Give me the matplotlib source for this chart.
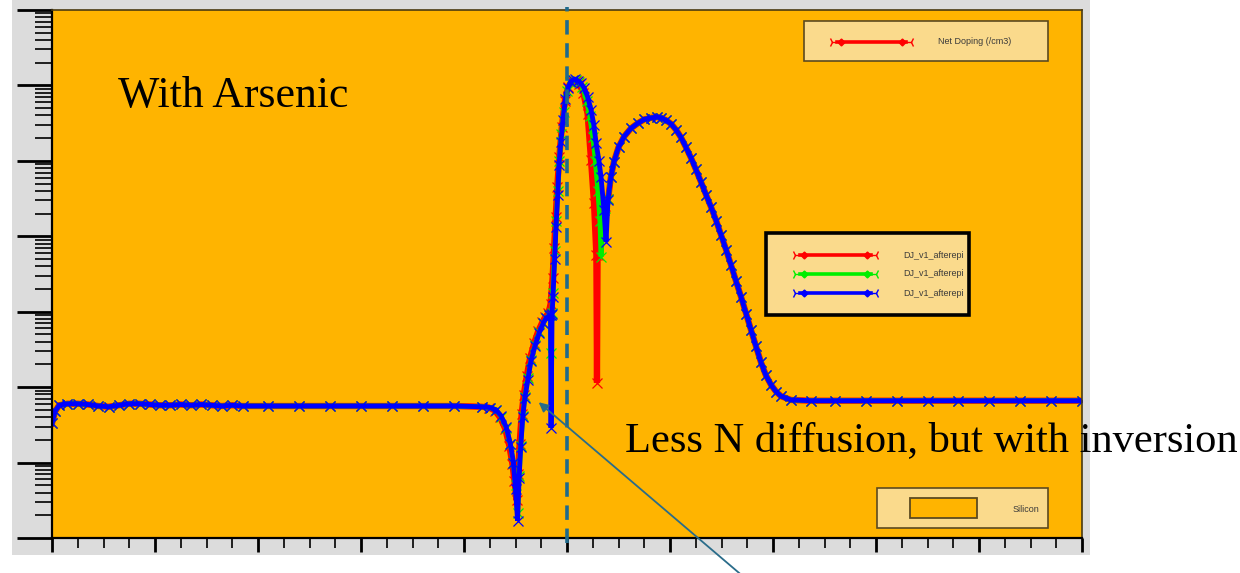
import numpy as np
import matplotlib
matplotlib.use("Agg")
import matplotlib.pyplot as plt
from matplotlib.patches import Rectangle
from matplotlib.lines import Line2D

# depth in um (junction at 0), log10 of net doping (/cm3)
plateau_depth = [-5.00, -4.97, -4.93, -4.85, -4.75, -4.65, -4.55, -4.45, -4.35, -4.25,
                 -4.15, -4.05, -3.95, -3.85, -3.75, -3.65, -3.55, -3.45, -3.35, -3.25,
                 -3.15, -2.9, -2.6, -2.3, -2.0, -1.7, -1.4, -1.1, -0.83]
plateau_logn = [15.52, 15.68, 15.76, 15.78, 15.78, 15.77, 15.75, 15.74, 15.76, 15.78,
                15.78, 15.77, 15.76, 15.76, 15.77, 15.76, 15.77, 15.76, 15.75, 15.76,
                15.75, 15.75, 15.75, 15.75, 15.75, 15.75, 15.75, 15.75, 15.74]

tail_depth = [0.425, 0.456, 0.50, 0.553, 0.62, 0.689, 0.75, 0.816, 0.87, 0.913,
              0.96, 1.010, 1.06, 1.107, 1.155, 1.204, 1.25, 1.301, 1.35, 1.398,
              1.45, 1.495, 1.545, 1.592, 1.64, 1.689, 1.74, 1.786, 1.835, 1.883,
              1.93, 1.981, 2.03, 2.078, 2.175, 2.37,
              2.6, 2.9, 3.2, 3.5, 3.8, 4.1, 4.4, 4.7, 5.0]
tail_logn = [18.78, 18.99, 19.18, 19.32, 19.43, 19.50, 19.55, 19.57, 19.58, 19.57,
             19.54, 19.49, 19.41, 19.31, 19.18, 19.04, 18.89, 18.72, 18.55, 18.39,
             18.20, 18.02, 17.82, 17.62, 17.41, 17.20, 16.97, 16.76, 16.54, 16.33,
             16.16, 16.03, 15.94, 15.88, 15.83, 15.82,
             15.82, 15.82, 15.82, 15.82, 15.82, 15.82, 15.82, 15.82, 15.82]

red_mid_depth = [-0.76, -0.70, -0.65, -0.60, -0.56, -0.53, -0.51, -0.49, -0.475, -0.46,
                 -0.44, -0.42, -0.39, -0.36, -0.32, -0.28, -0.24, -0.21, -0.18, -0.16,
                 -0.14, -0.125, -0.11, -0.095, -0.075, -0.05, -0.02, 0.01, 0.05, 0.09,
                 0.12, 0.16, 0.20, 0.233, 0.262, 0.285, 0.291, 0.297, 0.33, 0.37, 0.40]
red_mid_logn = [15.73, 15.69, 15.60, 15.45, 15.22, 14.98, 14.75, 14.50, 14.85, 15.25,
                15.65, 15.90, 16.15, 16.38, 16.58, 16.74, 16.86, 16.93, 16.98, 17.10,
                17.45, 17.85, 18.25, 18.65, 19.05, 19.45, 19.80, 19.98, 20.06, 20.06,
                20.02, 19.90, 19.62, 19.01, 18.44, 17.75, 16.06, 17.75, 18.10, 18.40, 18.50]

green_mid_depth = [-0.75, -0.69, -0.64, -0.59, -0.55, -0.52, -0.50, -0.48, -0.465, -0.45,
                   -0.43, -0.41, -0.38, -0.35, -0.31, -0.27, -0.23, -0.20, -0.17, -0.16,
                   -0.155, -0.148, -0.138, -0.12, -0.105, -0.09, -0.075, -0.055, -0.03, 0.0,
                   0.03, 0.06, 0.09, 0.12, 0.15, 0.19, 0.22, 0.25, 0.275, 0.30,
                   0.32, 0.330, 0.345, 0.37, 0.40]
green_mid_logn = [15.73, 15.70, 15.61, 15.46, 15.24, 14.99, 14.70, 14.33, 14.82, 15.22,
                  15.62, 15.87, 16.12, 16.36, 16.56, 16.73, 16.85, 16.92, 16.96, 16.96,
                  16.45, 16.98, 17.25, 17.80, 18.20, 18.60, 19.00, 19.35, 19.65, 19.92,
                  20.04, 20.07, 20.07, 20.04, 19.98, 19.80, 19.60, 19.32, 19.00, 18.60,
                  18.20, 17.73, 18.05, 18.38, 18.50]

blue_mid_depth = [-0.75, -0.69, -0.64, -0.59, -0.55, -0.52, -0.50, -0.48, -0.465, -0.45,
                  -0.43, -0.41, -0.38, -0.35, -0.31, -0.27, -0.23, -0.20, -0.17, -0.16,
                  -0.155, -0.145, -0.136, -0.12, -0.107, -0.09, -0.078, -0.06, -0.039, -0.015,
                  0.010, 0.035, 0.058, 0.08, 0.107, 0.135, 0.165, 0.20, 0.233, 0.26,
                  0.282, 0.31, 0.330, 0.359, 0.379, 0.398]
blue_mid_logn = [15.73, 15.70, 15.62, 15.47, 15.25, 15.00, 14.65, 14.23, 14.80, 15.20,
                 15.60, 15.85, 16.10, 16.35, 16.55, 16.72, 16.85, 16.92, 16.95, 16.95,
                 15.46, 16.97, 17.20, 17.70, 18.12, 18.55, 18.95, 19.25, 19.54, 19.82,
                 19.97, 20.05, 20.07, 20.08, 20.06, 20.03, 19.97, 19.85, 19.68, 19.48,
                 19.24, 19.00, 18.79, 18.35, 17.93, 18.48]

series_names = ["DJ_v1_afterepi", "DJ_v1_afterepi", "DJ_v1_afterepi"]
series_colors = ["#FF0000", "#00EE00", "#0000FF"]
series_mid = [(red_mid_depth, red_mid_logn),
              (green_mid_depth, green_mid_logn),
              (blue_mid_depth, blue_mid_logn)]

W, H = 1240, 573
ORANGE = "#FFB400"
LEG_FACE = "#FADA8C"


def fx(px):
    return px / W


def fy(py):
    return 1 - py / H


fig = plt.figure(figsize=(W / 100, H / 100), dpi=100)
fig.patch.set_facecolor("white")
# gray panel behind the plot
fig.add_artist(Rectangle((fx(12), fy(555)), 1078 / W, 555 / H, transform=fig.transFigure,
                         facecolor="#DCDCDC", edgecolor="none", zorder=-5))

ax = fig.add_axes([fx(52), fy(538), (1082 - 52) / W, (538 - 10) / H])
ax.set_facecolor(ORANGE)

for (mid_d, mid_n), col, lw in zip(series_mid, series_colors, [4.5, 3.5, 3.5]):
    d = np.array(plateau_depth + mid_d + tail_depth)
    n = 10 ** np.array(plateau_logn + mid_n + tail_logn)
    ax.plot(d, n, color=col, lw=lw, marker="x", ms=6.5, mew=0.9, solid_joinstyle="miter")

ax.set_yscale("log")
ax.set_xlim(-5, 5)
ax.set_ylim(1e14, 1e21)
ax.set_xticks(np.arange(-5, 5.01, 1))
ax.set_xticks(np.arange(-5, 5.01, 0.25), minor=True)
ax.tick_params(axis="y", which="major", direction="out", length=25, width=2, color="black")
ax.tick_params(axis="y", which="minor", direction="out", length=12, width=1.2, color="black")
ax.tick_params(axis="x", which="major", direction="out", length=10, width=2, color="black")
ax.tick_params(axis="x", which="minor", direction="out", length=7, width=1.2, color="black")
ax.tick_params(labelleft=False, labelbottom=False)
for s in ["left", "bottom"]:
    ax.spines[s].set_linewidth(1.6)
    ax.spines[s].set_color("black")
for s in ["top", "right"]:
    ax.spines[s].set_linewidth(1.2)
    ax.spines[s].set_color("#4a3a10")

# metallurgical junction marker
ax.axvline(0, ymin=-0.01, ymax=1.005, color="#1F6A8C", lw=2.6, ls=(0, (4, 2.4)),
           clip_on=False, zorder=5)


def box(x0, y0, x1, y1, edge="#5C4A20", lw=1.2, face=LEG_FACE):
    r = Rectangle((fx(x0), fy(y1)), (x1 - x0) / W, (y1 - y0) / H, transform=fig.transFigure,
                  facecolor=face, edgecolor=edge, lw=lw, zorder=6)
    fig.add_artist(r)
    return r


def sample(x0, x1, y, color):
    tr = fig.transFigure
    fig.add_artist(Line2D([fx(x0 + 5), fx(x1 - 5)], [fy(y)] * 2, color=color, lw=2.6,
                          transform=tr, zorder=7))
    fig.add_artist(Line2D([fx(x0 + 9), fx(x1 - 9)], [fy(y)] * 2, ls="none", marker="D", ms=3.5,
                          color=color, transform=tr, zorder=7))
    fig.add_artist(Line2D([fx(x0)], [fy(y)], ls="none", marker="4", ms=7, mew=1,
                          color=color, transform=tr, zorder=7))
    fig.add_artist(Line2D([fx(x1)], [fy(y)], ls="none", marker="3", ms=7, mew=1,
                          color=color, transform=tr, zorder=7))


leg_font = dict(family="Liberation Sans", fontsize=6.5, color="#3a3a3a", va="center", zorder=8)

box(804, 21, 1048, 61)
sample(832, 911, 42, "#FF0000")
fig.text(fx(938), fy(42), "Net Doping (/cm3)", **leg_font)

mid_box = box(766, 233, 969, 315, edge="black", lw=2.6)
for name, col, yy in zip(series_names, series_colors, [255, 274, 293]):
    sample(795, 876, yy, col)
    t = fig.text(fx(903), fy(yy), name, **leg_font)
    t.set_clip_path(mid_box)

box(877, 488, 1048, 528)
box(910, 498, 977, 518, edge="#5C4A20", lw=1.3, face=ORANGE)
fig.text(fx(1013), fy(509), "Silicon", **leg_font)

fig.text(fx(118), fy(96), "With Arsenic", family="Liberation Serif", fontsize=31.5,
         color="black", va="center", zorder=9)
fig.text(fx(625), fy(441), "Less N diffusion, but with inversion", family="Liberation Serif",
         fontsize=30.6, color="black", va="center", zorder=9)

ax.annotate("", xy=(-0.275, 10 ** 15.8), xytext=(745, -5), textcoords="figure pixels",
            arrowprops=dict(arrowstyle="-|>", color="#2A6C8A", lw=1.3,
                            mutation_scale=14, shrinkA=0, shrinkB=0),
            annotation_clip=False, zorder=9)

fig.savefig("out.png", dpi=100)
